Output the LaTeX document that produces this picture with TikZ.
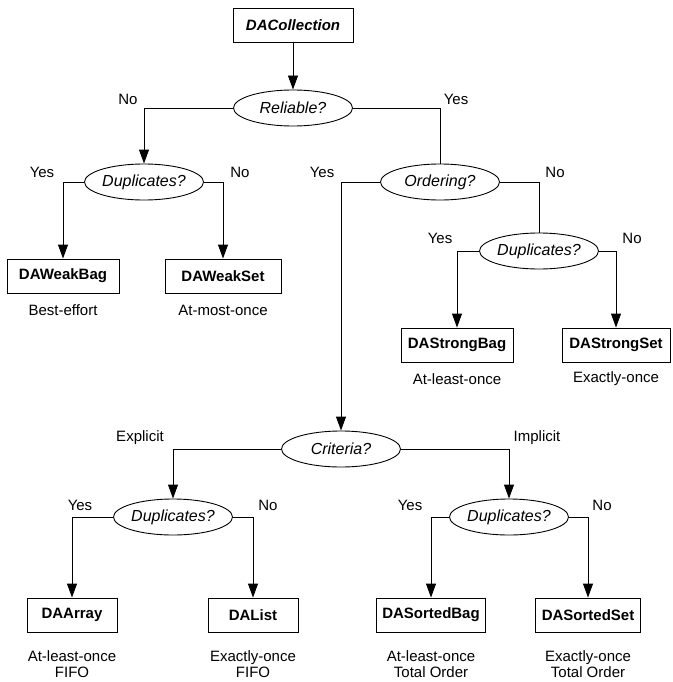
\documentclass[tikz,border=0pt]{standalone}
\usepackage{fontspec}
\setmainfont{Liberation Sans}
\usetikzlibrary{shapes.geometric,arrows.meta}
\tikzset{
  cls/.style={draw,line width=0.9pt,minimum width=90pt,minimum height=34pt,inner xsep=6pt,font=\fontsize{15}{17}\selectfont\bfseries},
  ask/.style={draw,ellipse,line width=0.9pt,minimum width=119pt,minimum height=36pt,inner sep=0pt,font=\fontsize{16}{18}\selectfont\itshape},
  lbl/.style={font=\fontsize{15}{17}\selectfont},
  note/.style={font=\fontsize{15}{16}\selectfont,align=center},
  wire/.style={line width=0.9pt},
  arr/.style={wire,-{Triangle[length=14pt,width=10pt]}}
}
\begin{document}
\begin{tikzpicture}[x=1pt,y=-1pt]
\useasboundingbox (0,0) rectangle (672,682);
% top of the tree
\node[cls,minimum width=120pt,font=\fontsize{15}{17}\selectfont\bfseries\itshape] (coll) at (293,25) {DACollection};
\node[ask] (rel) at (293,108) {Reliable?};
\draw[arr] (coll) -- (rel);
% unreliable side
\node[ask] (dupw) at (144,182) {Duplicates?};
\node[cls,minimum width=112pt] (wbag) at (63,276) {DAWeakBag};
\node[cls,minimum width=116pt] (wset) at (223,276) {DAWeakSet};
\node[lbl] (no1) at (128,99) {No};
\node[lbl] (yes2) at (42,172) {Yes};
\node[lbl] (no2) at (240,172) {No};
\draw[arr] (rel.west) -| (dupw.north);
\draw[arr] (dupw.west) -| (wbag.north);
\draw[arr] (dupw.east) -| (wset.north);
\node[note] (n1) at (63,310) {Best-effort};
\node[note] (n2) at (223,310) {At-most-once};
% reliable side
\node[ask] (ord) at (440,182) {Ordering?};
\node[lbl] (yes1) at (456,99) {Yes};
\draw[wire] (rel.east) -| (ord.north);
\node[ask] (dups) at (539,251) {Duplicates?};
\node[cls,minimum width=112pt] (sbag) at (457,345) {DAStrongBag};
\node[cls,minimum width=108pt] (sset) at (616,345) {DAStrongSet};
\node[lbl] (yes3) at (322,172) {Yes};
\node[lbl] (no3) at (555,172) {No};
\node[lbl] (yes4) at (440,238) {Yes};
\node[lbl] (no4) at (632,238) {No};
\draw[wire] (ord.east) -| (dups.north);
\draw[arr] (dups.west) -| (sbag.north);
\draw[arr] (dups.east) -| (sset.north);
\node[note] (n3) at (457,379) {At-least-once};
\node[note] (n4) at (616,379) {Exactly-once};
% ordered side
\node[ask] (crit) at (341,449) {Criteria?};
\draw[arr] (ord.west) -| (crit.north);
\node[lbl] (expl) at (140,438) {Explicit};
\node[lbl] (impl) at (537,438) {Implicit};
\node[ask] (dupe) at (173,517) {Duplicates?};
\node[ask] (dupi) at (509,517) {Duplicates?};
\draw[arr] (crit.west) -| (dupe.north);
\draw[arr] (crit.east) -| (dupi.north);
\node[lbl] (yes5) at (80,505) {Yes};
\node[lbl] (no5) at (268,505) {No};
\node[lbl] (yes6) at (410,505) {Yes};
\node[lbl] (no6) at (602,505) {No};
\node[cls] (arr1) at (72,615) {DAArray};
\node[cls] (list) at (253,615) {DAList};
\node[cls,minimum width=104pt] (obag) at (431,615) {DASortedBag};
\node[cls,minimum width=104pt] (oset) at (588,615) {DASortedSet};
\draw[arr] (dupe.west) -| (arr1.north);
\draw[arr] (dupe.east) -| (list.north);
\draw[arr] (dupi.west) -| (obag.north);
\draw[arr] (dupi.east) -| (oset.north);
\node[note] (n5) at (72,664) {At-least-once\\FIFO};
\node[note] (n6) at (253,664) {Exactly-once\\FIFO};
\node[note] (n7) at (431,664) {At-least-once\\Total Order};
\node[note] (n8) at (588,664) {Exactly-once\\Total Order};
\end{tikzpicture}
\end{document}
